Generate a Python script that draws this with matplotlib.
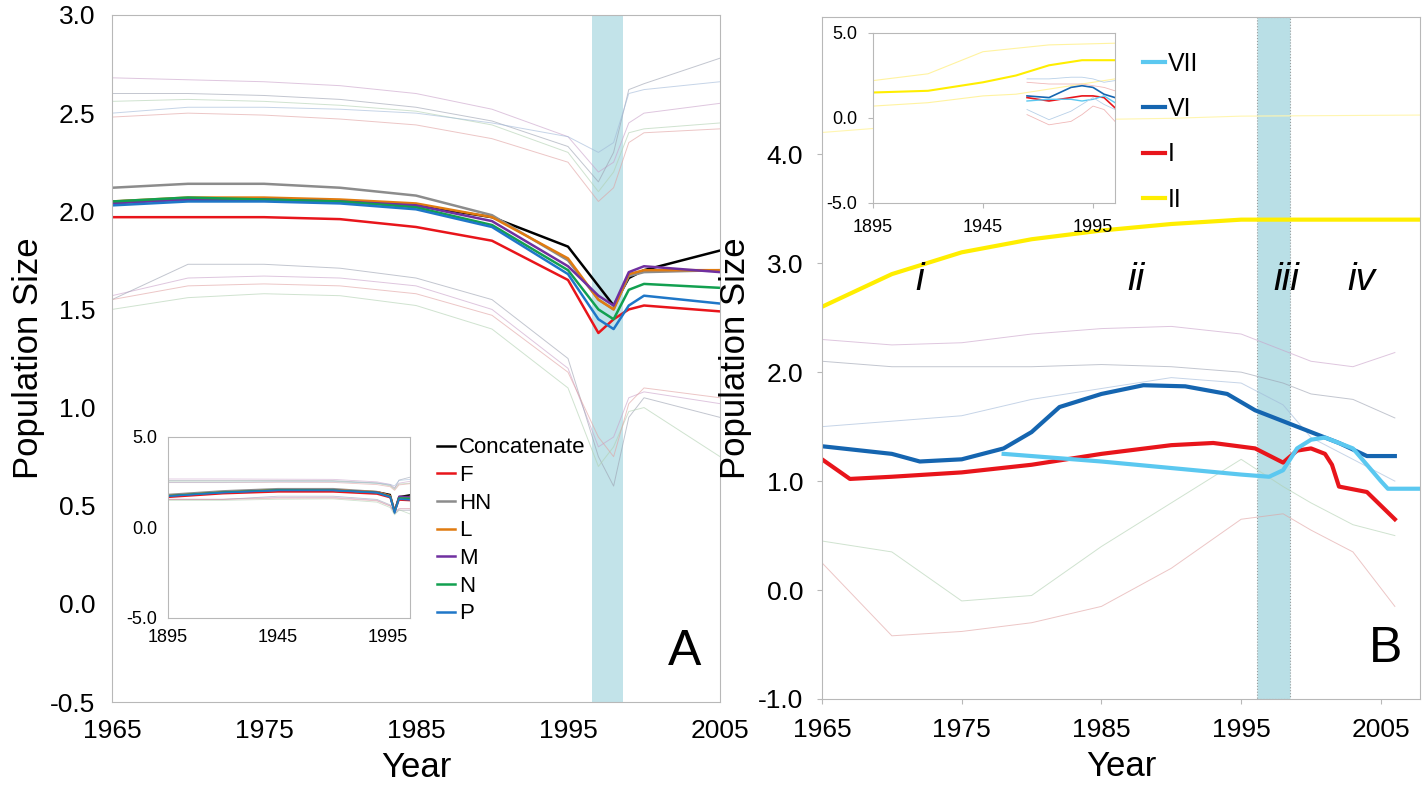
import matplotlib
matplotlib.use("Agg")
import matplotlib.pyplot as plt
import numpy as np
plt.rcParams['font.family'] = ['Liberation Sans', 'DejaVu Sans']

# ---------- Panel A data ----------
yrA = [1965, 1970, 1975, 1980, 1985, 1990, 1995, 1997, 1998, 1999, 2000, 2005]
concat = [2.05, 2.06, 2.06, 2.05, 2.03, 1.97, 1.82, 1.62, 1.52, 1.66, 1.70, 1.80]
F = [1.97, 1.97, 1.97, 1.96, 1.92, 1.85, 1.65, 1.38, 1.45, 1.50, 1.52, 1.49]
HN = [2.12, 2.14, 2.14, 2.12, 2.08, 1.98, 1.75, 1.55, 1.50, 1.67, 1.69, 1.70]
L = [2.05, 2.07, 2.07, 2.06, 2.04, 1.97, 1.76, 1.55, 1.50, 1.68, 1.70, 1.70]
M = [2.04, 2.06, 2.06, 2.05, 2.03, 1.95, 1.72, 1.57, 1.52, 1.69, 1.72, 1.69]
N = [2.05, 2.07, 2.06, 2.05, 2.02, 1.93, 1.70, 1.50, 1.45, 1.60, 1.63, 1.61]
P = [2.03, 2.05, 2.05, 2.04, 2.01, 1.92, 1.68, 1.45, 1.40, 1.52, 1.57, 1.53]
seriesA = [("Concatenate", concat, "black"), ("F", F, "#e8151b"), ("HN", HN, "#8c8c8c"),
           ("L", L, "#e07b10"), ("M", M, "#7030a0"), ("N", N, "#12a050"), ("P", P, "#1f77c8")]
faintA_hi = [[2.68, 2.67, 2.66, 2.64, 2.60, 2.52, 2.38, 2.20, 2.25, 2.45, 2.50, 2.55],
             [2.60, 2.60, 2.59, 2.57, 2.53, 2.46, 2.33, 2.15, 2.30, 2.62, 2.65, 2.78],
             [2.56, 2.57, 2.56, 2.54, 2.51, 2.44, 2.30, 2.10, 2.20, 2.40, 2.42, 2.45],
             [2.48, 2.50, 2.49, 2.47, 2.44, 2.37, 2.25, 2.05, 2.12, 2.35, 2.40, 2.42],
             [2.50, 2.53, 2.53, 2.52, 2.50, 2.45, 2.38, 2.30, 2.35, 2.60, 2.62, 2.66]]
faintA_lo = [[1.57, 1.66, 1.67, 1.66, 1.62, 1.50, 1.20, 0.80, 0.85, 1.05, 1.08, 1.02],
             [1.55, 1.73, 1.73, 1.71, 1.66, 1.55, 1.25, 0.75, 0.60, 0.95, 1.05, 0.95],
             [1.50, 1.56, 1.58, 1.57, 1.52, 1.40, 1.10, 0.70, 0.80, 0.98, 1.00, 0.75],
             [1.55, 1.62, 1.63, 1.62, 1.58, 1.47, 1.18, 0.85, 0.75, 1.02, 1.10, 1.05]]
faint_cols = ["#c9a0c9", "#9aa0b0", "#b0d0b0", "#e0a0a0", "#a0b8d8"]

# ---------- Panel B data ----------
yrII = [1965, 1970, 1975, 1980, 1985, 1990, 1995, 2008]
II = [2.60, 2.90, 3.10, 3.22, 3.30, 3.36, 3.40, 3.40]
II_hi = [4.20, 4.25, 4.28, 4.30, 4.32, 4.33, 4.35, 4.36]
yrVI = [1965, 1970, 1972, 1975, 1978, 1980, 1982, 1985, 1988, 1991, 1994, 1996, 1999, 2002, 2004, 2006]
VI = [1.32, 1.25, 1.18, 1.20, 1.30, 1.45, 1.68, 1.80, 1.88, 1.87, 1.80, 1.65, 1.50, 1.35, 1.23, 1.23]
yrI = [1965, 1967, 1970, 1975, 1980, 1985, 1990, 1993, 1996, 1998, 1999, 2000, 2001, 2001.5, 2002, 2004, 2006]
I = [1.20, 1.02, 1.04, 1.08, 1.15, 1.25, 1.33, 1.35, 1.30, 1.17, 1.28, 1.30, 1.25, 1.15, 0.95, 0.90, 0.65]
yrVII = [1978, 1985, 1990, 1995, 1997, 1998, 1999, 2000, 2001, 2003, 2005, 2005.5, 2008]
VII = [1.25, 1.18, 1.12, 1.06, 1.04, 1.10, 1.30, 1.38, 1.40, 1.30, 1.00, 0.93, 0.93]
yrF = [1965, 1970, 1975, 1980, 1985, 1990, 1995, 1998, 2000, 2003, 2006]
faintB = [[2.30, 2.25, 2.27, 2.35, 2.40, 2.42, 2.35, 2.20, 2.10, 2.05, 2.18],
          [2.10, 2.05, 2.05, 2.05, 2.07, 2.05, 2.00, 1.90, 1.80, 1.75, 1.58],
          [0.45, 0.35, -0.10, -0.05, 0.40, 0.80, 1.20, 0.95, 0.80, 0.60, 0.50],
          [0.25, -0.42, -0.38, -0.30, -0.15, 0.20, 0.65, 0.70, 0.55, 0.35, -0.15],
          [1.50, 1.55, 1.60, 1.75, 1.85, 1.95, 1.90, 1.70, 1.40, 1.20, 1.00]]
labels_roman = [("i", 1972, 2.75), ("ii", 1987.5, 2.75), ("iii", 1998.2, 2.75), ("iv", 2003.6, 2.75)]

W, H = 1427, 800
def rect(x0, y0, x1, y1):
    return [x0 / W, 1 - y1 / H, (x1 - x0) / W, (y1 - y0) / H]

fmt = matplotlib.ticker.FormatStrFormatter('%.1f')
def grey(ax):
    for s in ax.spines.values():
        s.set_color("#b8b8b8")

fig = plt.figure(figsize=(14.27, 8), dpi=100)

# ---------- Panel A ----------
axA = fig.add_axes(rect(112, 15, 720, 702))
for i, f in enumerate(faintA_hi + faintA_lo):
    axA.plot(yrA, f, color=faint_cols[i % 5], lw=0.7, alpha=0.6)
for name, y, c in seriesA:
    axA.plot(yrA, y, color=c, lw=1.8, label=name)
axA.axvspan(1996.6, 1998.6, color="#a8d8e0", alpha=0.7, lw=0)
axA.set_xlim(1965, 2005); axA.set_ylim(-0.5, 3.0)
axA.set_xticks([1965, 1975, 1985, 1995, 2005])
axA.set_yticks(np.arange(-0.5, 3.01, 0.5))
axA.yaxis.set_major_formatter(fmt)
axA.tick_params(labelsize=19, length=0, pad=12)
axA.set_xlabel("Year", fontsize=25, labelpad=6); axA.set_ylabel("Population Size", fontsize=25)
grey(axA)
axA.legend(loc=(0.52, 0.10), frameon=False, fontsize=16, handlelength=0.8, handletextpad=0.2, labelspacing=0.3)
axA.text(0.97, 0.04, "A", transform=axA.transAxes, fontsize=36, ha="right", va="bottom")

insA = fig.add_axes(rect(168, 437, 410, 618))
yrIn = [1895, 1920, 1945, 1970, 1990, 1996, 1998, 2000, 2005]
for i, f in enumerate(faintA_hi + faintA_lo):
    insA.plot(yrIn, [f[0], f[0], f[1], f[2], f[5], f[6], f[7], f[9], f[11]], color=faint_cols[i % 5], lw=0.6, alpha=0.6)
for name, y, c in seriesA:
    insA.plot(yrIn, [y[0] - 0.3, y[0] - 0.1, y[1], y[2], y[5], y[6], y[8] - 0.6, y[10], y[11]], color=c, lw=1.2)
insA.set_xlim(1895, 2005); insA.set_ylim(-5, 5)
insA.set_xticks([1895, 1945, 1995]); insA.set_yticks([-5, 0, 5])
insA.yaxis.set_major_formatter(fmt)
insA.tick_params(labelsize=13, length=0, pad=8)
grey(insA)

# ---------- Panel B ----------
axB = fig.add_axes(rect(822, 17, 1420, 699))
for i, f in enumerate(faintB):
    axB.plot(yrF, f, color=faint_cols[i % 5], lw=0.7, alpha=0.6)
axB.plot(yrII, II_hi, color="#fff6b0", lw=0.8)
axB.plot(yrII, II, color="#ffee00", lw=3, label="II")
axB.plot(yrVI, VI, color="#1565b0", lw=3, label="VI")
axB.plot(yrI, I, color="#e8151b", lw=3, label="I")
axB.plot(yrVII, VII, color="#5bc8f0", lw=3, label="VII")
axB.axvspan(1996.1, 1998.5, color="#a8d8e0", alpha=0.8, lw=0.8, ec="#888888", ls=":")
axB.set_xlim(1965, 2007.8); axB.set_ylim(-1.0, 5.26)
axB.set_xticks([1965, 1975, 1985, 1995, 2005])
axB.set_yticks([-1, 0, 1, 2, 3, 4])
axB.yaxis.set_major_formatter(fmt)
axB.tick_params(labelsize=19, pad=10)
axB.set_xlabel("Year", fontsize=25, labelpad=6); axB.set_ylabel("Population Size", fontsize=25)
grey(axB)
axB.tick_params(color="#b8b8b8")
h, l = axB.get_legend_handles_labels()
order = [3, 1, 2, 0]
axB.legend([h[k] for k in order], [l[k] for k in order], loc=(0.52, 0.70), frameon=False,
           fontsize=18, handlelength=0.9, handletextpad=0.1, labelspacing=0.85)
for t, x, y in labels_roman:
    axB.text(x, y, t, fontsize=28, style="italic", ha="center")
axB.text(0.97, 0.04, "B", transform=axB.transAxes, fontsize=36, ha="right", va="bottom")

insB = fig.add_axes(rect(873, 33, 1115, 203))
yrBI = [1895, 1920, 1945, 1960, 1975, 1990, 2005]
insB.plot(yrBI, [1.5, 1.6, 2.1, 2.5, 3.1, 3.4, 3.4], color="#ffee00", lw=1.5)
insB.plot(yrBI, [2.2, 2.6, 3.9, 4.1, 4.3, 4.35, 4.4], color="#fff3a0", lw=0.8)
insB.plot(yrBI, [0.7, 0.9, 1.3, 1.4, 1.7, 2.0, 2.3], color="#fff3a0", lw=0.8)
yrBs = [1965, 1975, 1985, 1990, 1995, 2000, 2005]
insB.plot(yrBs, [1.3, 1.2, 1.8, 1.9, 1.8, 1.4, 1.2], color="#1565b0", lw=1.2)
insB.plot(yrBs, [1.2, 1.0, 1.2, 1.3, 1.3, 1.2, 0.6], color="#e8151b", lw=1.2)
insB.plot(yrBs, [1.0, 1.1, 1.1, 1.0, 1.1, 1.3, 0.9], color="#5bc8f0", lw=1.0)
insB.plot(yrBs, [2.3, 2.3, 2.4, 2.4, 2.3, 2.1, 2.2], color="#b8d0e8", lw=0.6)
insB.plot(yrBs, [2.1, 2.0, 2.0, 2.0, 1.9, 1.8, 1.6], color="#f0b8b8", lw=0.6)
insB.plot(yrBs, [0.5, -0.1, 0.4, 0.8, 1.2, 0.8, 0.5], color="#b8d0e8", lw=0.6)
insB.plot(yrBs, [0.2, -0.4, -0.2, 0.2, 0.7, 0.5, -0.2], color="#f0b8b8", lw=0.6)
insB.set_xlim(1895, 2005); insB.set_ylim(-5, 5)
insB.set_xticks([1895, 1945, 1995]); insB.set_yticks([-5, 0, 5])
insB.yaxis.set_major_formatter(fmt)
insB.tick_params(labelsize=13, pad=8, color="#b8b8b8")
grey(insB)

fig.savefig("out.png", dpi=100)
